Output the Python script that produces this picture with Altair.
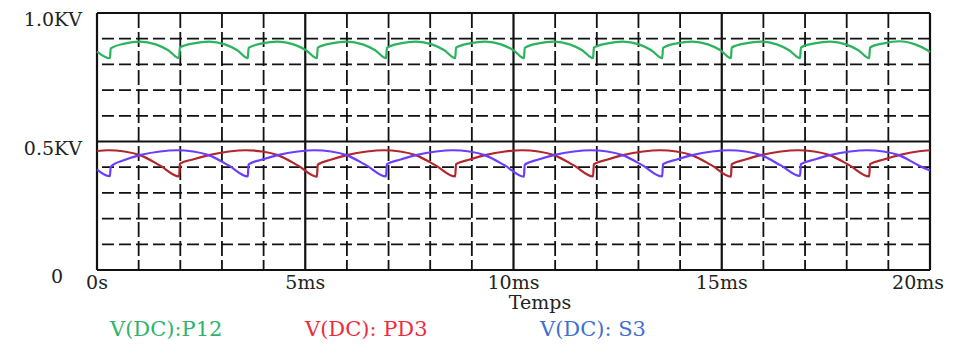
import altair as alt
import pandas as pd

SERIES = ["V(DC):P12", "V(DC): PD3", "V(DC): S3"]
LINE_COLORS = ["#2bb35e", "#b3262b", "#6a3dff"]
TEXT_COLORS = ["#2fb36c", "#ee2b3b", "#3f6fd2"]

# time in ms, value in kV
green_t = [0.00,
           0.31, 0.33, 0.66, 1.03, 1.41, 1.71,
           1.97, 1.99, 2.32, 2.69, 3.07, 3.37,
           3.62, 3.64, 3.97, 4.34, 4.72, 5.02,
           5.28, 5.30, 5.63, 6.00, 6.38, 6.68,
           6.94, 6.96, 7.29, 7.66, 8.04, 8.34,
           8.60, 8.62, 8.95, 9.32, 9.70, 10.00,
           10.25, 10.27, 10.60, 10.97, 11.35, 11.65,
           11.91, 11.93, 12.26, 12.63, 13.01, 13.31,
           13.57, 13.59, 13.92, 14.29, 14.67, 14.97,
           15.22, 15.24, 15.57, 15.94, 16.32, 16.62,
           16.88, 16.90, 17.23, 17.60, 17.98, 18.28,
           18.54, 18.56, 18.89, 19.26, 19.64, 19.94,
           20.00]
green_v = [0.850,
           0.824, 0.862, 0.881, 0.889, 0.878, 0.855,
           0.824, 0.866, 0.882, 0.889, 0.878, 0.855,
           0.824, 0.864, 0.882, 0.889, 0.878, 0.855,
           0.824, 0.865, 0.882, 0.889, 0.878, 0.855,
           0.824, 0.864, 0.882, 0.889, 0.878, 0.855,
           0.824, 0.865, 0.882, 0.889, 0.878, 0.855,
           0.824, 0.864, 0.882, 0.889, 0.878, 0.855,
           0.824, 0.865, 0.882, 0.889, 0.878, 0.855,
           0.824, 0.864, 0.882, 0.889, 0.878, 0.855,
           0.824, 0.866, 0.882, 0.889, 0.878, 0.855,
           0.824, 0.866, 0.882, 0.889, 0.878, 0.855,
           0.824, 0.866, 0.882, 0.890, 0.878, 0.855,
           0.848]

red_t = [0.00, 0.26, 0.66, 1.03, 1.51,
         1.97, 1.99, 2.32, 2.69, 3.17, 3.57, 3.97, 4.34, 4.82,
         5.28, 5.30, 5.63, 6.00, 6.48, 6.88, 7.28, 7.65, 8.13,
         8.60, 8.62, 8.95, 9.32, 9.80, 10.20, 10.60, 10.97, 11.45,
         11.91, 11.93, 12.26, 12.63, 13.11, 13.51, 13.91, 14.28, 14.76,
         15.22, 15.24, 15.57, 15.94, 16.42, 16.82, 17.22, 17.59, 18.07,
         18.54, 18.56, 18.89, 19.26, 19.74,
         20.00]
red_v = [0.463, 0.466, 0.461, 0.447, 0.407,
         0.364, 0.414, 0.431, 0.447, 0.461, 0.466, 0.461, 0.447, 0.407,
         0.363, 0.410, 0.430, 0.447, 0.461, 0.466, 0.461, 0.447, 0.407,
         0.364, 0.412, 0.430, 0.447, 0.461, 0.466, 0.461, 0.447, 0.407,
         0.364, 0.412, 0.430, 0.447, 0.461, 0.466, 0.461, 0.447, 0.407,
         0.363, 0.412, 0.430, 0.447, 0.461, 0.466, 0.461, 0.447, 0.407,
         0.364, 0.412, 0.430, 0.447, 0.462,
         0.466]

blue_t = [0.00,
          0.31, 0.33, 0.66, 1.03, 1.51, 1.91, 2.31, 2.68, 3.16,
          3.62, 3.64, 3.97, 4.34, 4.82, 5.22, 5.62, 5.99, 6.47,
          6.94, 6.96, 7.29, 7.66, 8.14, 8.54, 8.94, 9.31, 9.79,
          10.25, 10.27, 10.60, 10.97, 11.45, 11.85, 12.25, 12.62, 13.10,
          13.57, 13.59, 13.92, 14.29, 14.77, 15.17, 15.57, 15.94, 16.42,
          16.88, 16.90, 17.23, 17.60, 18.08, 18.48, 18.88, 19.25, 19.73,
          20.00]
blue_v = [0.391,
          0.365, 0.402, 0.428, 0.447, 0.461, 0.466, 0.461, 0.447, 0.407,
          0.364, 0.411, 0.430, 0.447, 0.461, 0.466, 0.461, 0.447, 0.407,
          0.364, 0.412, 0.430, 0.447, 0.461, 0.466, 0.461, 0.447, 0.407,
          0.363, 0.410, 0.430, 0.447, 0.461, 0.466, 0.461, 0.447, 0.407,
          0.364, 0.412, 0.430, 0.447, 0.461, 0.466, 0.461, 0.447, 0.407,
          0.366, 0.412, 0.430, 0.447, 0.461, 0.466, 0.461, 0.447, 0.407,
          0.387]

major_ms = [0, 5, 10, 15, 20]
minor_ms = [1, 2, 3, 4, 6, 7, 8, 9, 11, 12, 13, 14, 16, 17, 18, 19]
solid_kv = [0.0, 0.5, 1.0]
dashed_kv = [0.1, 0.2, 0.3, 0.4, 0.6, 0.7, 0.8, 0.9]
ylab_vals = [1.0, 0.5]
ylab_text = ["1.0KV", "0.5KV"]
xlab_vals = [0, 5, 10, 15]
xlab_text = ["0s", "5ms", "10ms", "15ms"]
xlab_last_val = [20]
xlab_last_text = ["20ms"]
X_TITLE = "Temps"

FONT = "DejaVu Serif"
INK = "#222222"

rows = []
for name, ts, vs in zip(SERIES, [green_t, red_t, blue_t], [green_v, red_v, blue_v]):
    for t, v in zip(ts, vs):
        rows.append({"series": name, "t": t, "v": v})
df = pd.DataFrame(rows)

xs = alt.Scale(domain=[0, 20], nice=False, zero=False)
ys = alt.Scale(domain=[0, 1], nice=False, zero=False)

minor_v = alt.Chart(pd.DataFrame({"t": minor_ms})).mark_rule(
    color="#111111", strokeWidth=1.8, strokeDash=[15, 4]
).encode(x=alt.X("t:Q", scale=xs, axis=None))

major_v = alt.Chart(pd.DataFrame({"t": major_ms})).mark_rule(
    color="#111111", strokeWidth=2.2
).encode(x=alt.X("t:Q", scale=xs, axis=None))

dashed_h = alt.Chart(pd.DataFrame({"v": dashed_kv})).mark_rule(
    color="#111111", strokeWidth=1.8, strokeDash=[12, 5]
).encode(y=alt.Y("v:Q", scale=ys, axis=None))

solid_h = alt.Chart(pd.DataFrame({"v": solid_kv})).mark_rule(
    color="#111111", strokeWidth=2.2
).encode(y=alt.Y("v:Q", scale=ys, axis=None))

lines = alt.Chart(df).mark_line(strokeWidth=2.2, interpolate="monotone").encode(
    x=alt.X("t:Q", scale=xs, axis=None),
    y=alt.Y("v:Q", scale=ys, axis=None),
    color=alt.Color("series:N", scale=alt.Scale(domain=SERIES, range=LINE_COLORS), legend=None),
)

ylabels = alt.Chart(pd.DataFrame({"v": ylab_vals, "label": ylab_text})).mark_text(
    align="right", baseline="middle", dy=7, font=FONT, fontSize=19, color=INK
).encode(y=alt.Y("v:Q", scale=ys, axis=None), x=alt.value(-15), text="label:N")

zero_label = alt.Chart(pd.DataFrame({"v": [0.0], "label": ["0"]})).mark_text(
    align="right", baseline="middle", dy=7, font=FONT, fontSize=19, color=INK
).encode(y=alt.Y("v:Q", scale=ys, axis=None), x=alt.value(-34), text="label:N")

xlabels = alt.Chart(pd.DataFrame({"t": xlab_vals, "label": xlab_text})).mark_text(
    align="center", baseline="middle", font=FONT, fontSize=19, color=INK
).encode(x=alt.X("t:Q", scale=xs, axis=None), y=alt.value(270), text="label:N")

xlabel_last = alt.Chart(pd.DataFrame({"t": xlab_last_val, "label": xlab_last_text})).mark_text(
    align="right", baseline="middle", font=FONT, fontSize=19, color=INK, dx=14
).encode(x=alt.X("t:Q", scale=xs, axis=None), y=alt.value(270), text="label:N")

xtitle = alt.Chart(pd.DataFrame({"label": [X_TITLE]})).mark_text(
    align="center", baseline="middle", font=FONT, fontSize=19, color=INK
).encode(x=alt.value(443), y=alt.value(290), text="label:N")

legend_x = [13, 208, 443]
legend_layers = []
for name, col, lx in zip(SERIES, TEXT_COLORS, legend_x):
    legend_layers.append(
        alt.Chart(pd.DataFrame({"label": [name]})).mark_text(
            align="left", baseline="middle", font=FONT, fontSize=21, color=col
        ).encode(x=alt.value(lx), y=alt.value(317), text="label:N")
    )

chart = alt.layer(
    minor_v, dashed_h, major_v, solid_h, lines, ylabels, zero_label,
    xlabels, xlabel_last, xtitle, *legend_layers
).properties(
    width=833, height=257,
    autosize=alt.AutoSizeParams(type="none"),
    padding={"left": 89, "top": 5, "right": 17, "bottom": 75},
).configure_view(stroke=None).configure(background="white")

chart.save("out.html", embed_options={"renderer": "svg", "actions": False})
